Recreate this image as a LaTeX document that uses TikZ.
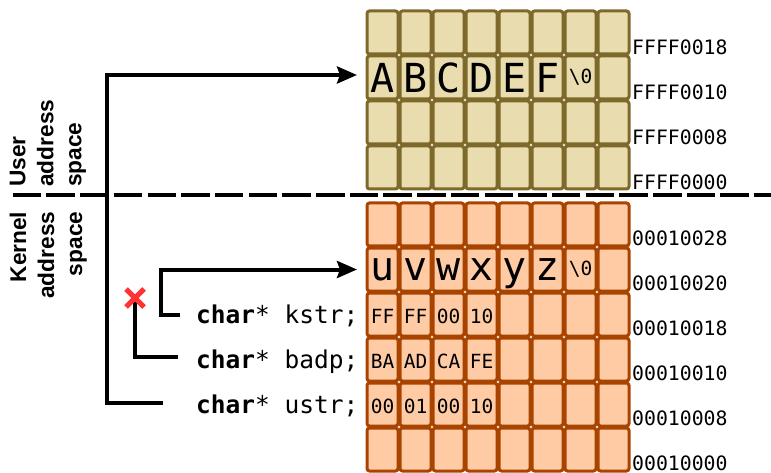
\documentclass[tikz,border=0pt]{standalone}
\usepackage{fontspec}
\newfontfamily\monof{DejaVu Sans Mono}
\newfontfamily\sansf{Liberation Sans}
\usetikzlibrary{arrows.meta}
\definecolor{ufill}{HTML}{E9DCAF}
\definecolor{udraw}{HTML}{7D6A2A}
\definecolor{kfill}{HTML}{FFCBA5}
\definecolor{kdraw}{HTML}{A94400}
\definecolor{xred}{HTML}{FF3333}
\tikzset{
  cell/.style={draw, rounded corners=2.5pt, line width=3pt, minimum width=31pt, minimum height=43pt, inner sep=0pt, outer sep=0pt},
  ucell/.style={cell, fill=ufill, draw=udraw},
  kcell/.style={cell, fill=kfill, draw=kdraw},
  big/.style={font=\monof\fontsize{40}{40}\selectfont, inner sep=0pt},
  small/.style={font=\monof\fontsize{19.5}{20}\selectfont, inner sep=0pt},
  addr/.style={font=\monof\fontsize{19.8}{20}\selectfont, inner sep=0pt, anchor=base west},
  code/.style={font=\monof\fontsize{24.5}{25}\selectfont, inner sep=0pt, anchor=base west},
  region/.style={font=\sansf\bfseries\fontsize{22.7}{28}\selectfont, rotate=90, inner sep=0pt},
  ptr/.style={line width=4pt, -{Stealth[length=20pt,width=17pt,inset=3pt]}},
  lead/.style={line width=4pt},
  divider/.style={line width=4.5pt, dash pattern=on 28.5pt off 5.2pt},
  cross/.style={draw=xred, line width=5pt},
}
\begin{document}
\begin{tikzpicture}[x=1pt,y=-1pt]
\useasboundingbox (0,0) rectangle (771,473);
% user grid
\foreach \r in {0,...,3}{\foreach \c in {0,...,7}{
  \node[ucell] (u-\r-\c) at ({382.5+33*\c},{32.5+45*\r}) {};}}
% kernel grid
\foreach \r in {0,...,5}{\foreach \c in {0,...,7}{
  \node[kcell] (k-\r-\c) at ({382.5+33*\c},{224.5+45*\r}) {};}}
% user string
\foreach \ch [count=\i from 0] in {A,B,C,D,E,F}{
  \node[big, anchor=base] (ul-\i) at ({382.5+33*\i},92.5) {\ch};}
\node[small] (ul-6) at (u-1-6) {\textbackslash0};
% kernel string
\foreach \ch [count=\i from 0] in {u,v,w,x,y,z}{
  \node[big, anchor=base] (kl-\i) at ({382.5+33*\i},280.5) {\ch};}
\node[small] (kl-6) at (k-1-6) {\textbackslash0};
% bytes
\foreach \b [count=\i from 0] in {FF,FF,00,10}{
  \node[small, anchor=base] (ka-\i) at ({382.5+33*\i},323.3) {\b};}
\foreach \b [count=\i from 0] in {BA,AD,CA,FE}{
  \node[small, anchor=base] (kb-\i) at ({382.5+33*\i},368.3) {\b};}
\foreach \b [count=\i from 0] in {00,01,00,10}{
  \node[small, anchor=base] (kc-\i) at ({382.5+33*\i},413.3) {\b};}
% addresses
\foreach \a [count=\i from 0] in {FFFF0018,FFFF0010,FFFF0008,FFFF0000}{
  \node[addr] (ua-\i) at (632,{55+45*\i}) {\a};}
\foreach \a [count=\i from 0] in {00010028,00010020,00010018,00010010,00010008,00010000}{
  \node[addr] (kaddr-\i) at (632,{245.5+44.9*\i}) {\a};}
% divider
\coordinate (dl) at (12.7,195);
\coordinate (dr) at (771,195);
\draw[divider] (dl) -- (dr);
% region labels
\node[region, align=left, anchor=north west] (user) at (9.5,187) {User\\address\\space};
\node[region, align=right, anchor=north east] (kernel) at (9.5,211.5) {Kernel\\address\\space};
% code
\node[code] (kstr) at (196,323.3) {\textbf{char}* kstr;};
\node[code] (badp) at (196,368.3) {\textbf{char}* badp;};
\node[code] (ustr) at (196,413.3) {\textbf{char}* ustr;};
% pointers
\coordinate (ks) at (180,315);
\coordinate (kb) at (161,315);
\draw[ptr] (ks) -- (kb) |- ([xshift=-10pt]k-1-0.west);
\coordinate (us) at (163,403);
\coordinate (ub) at (107,403);
\draw[ptr] (us) -- (ub) |- ([xshift=-10pt,yshift=2.5pt]u-1-0.west);
\coordinate (bs) at (178,357);
\coordinate (bx) at (135,298);
\draw[lead] (bs) -| (bx);
\draw[cross] ([shift={(-9,-9)}]bx) -- ([shift={(9,9)}]bx);
\draw[cross] ([shift={(-9,9)}]bx) -- ([shift={(9,-9)}]bx);
\end{tikzpicture}
\end{document}
